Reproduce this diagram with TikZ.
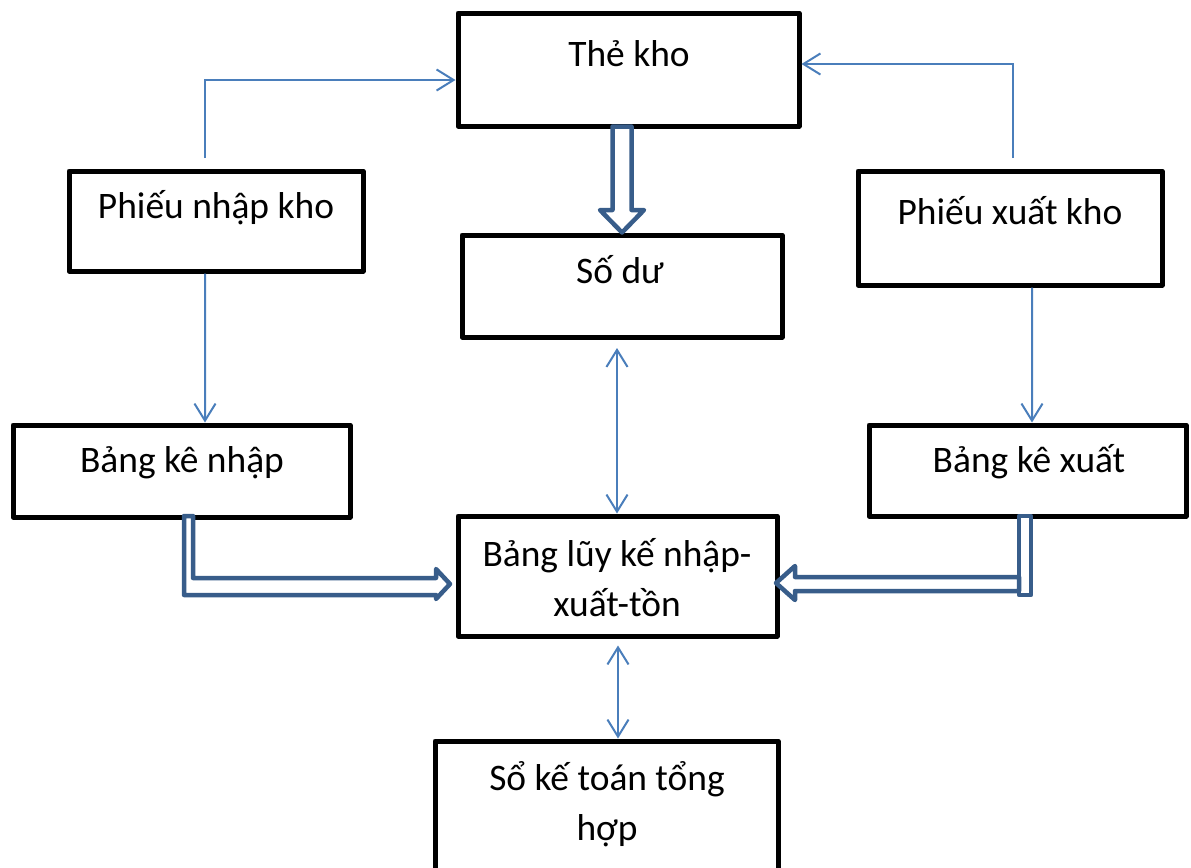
\documentclass[tikz,border=0pt]{standalone}
\usepackage{fontspec}
\setmainfont{Carlito}
\usetikzlibrary{arrows.meta}
\newlength\pxu
\setlength\pxu{0.02cm}
\definecolor{linkblue}{RGB}{74,126,187}
\definecolor{flowblue}{RGB}{56,93,138}

\begin{document}
\begin{tikzpicture}[x=0.02cm,y=-0.02cm,
  box/.style={draw=black, line width=5\pxu, line join=round, fill=white, inner sep=0pt},
  txt/.style={font=\fontsize{21.3}{25}\selectfont, anchor=base, inner sep=0pt},
  link/.style={draw=linkblue, line width=2\pxu,
    -{Straight Barb[length=9.7pt, width=12pt]}},
  twolink/.style={draw=linkblue, line width=2\pxu,
    {Straight Barb[length=9.7pt, width=12pt]}-{Straight Barb[length=9.7pt, width=12pt]}},
  hollow/.style={draw=flowblue, line width=4.5\pxu, fill=white, line join=round}
]
\useasboundingbox (0,0) rectangle (1191,867);
\clip (0,0) rectangle (1191,867);

% document boxes
\node[box, minimum width=341\pxu, minimum height=113\pxu] (thekho) at (628.5,69.5) {};
\node[box, minimum width=294\pxu, minimum height=100\pxu] (pnk) at (216,221) {};
\node[box, minimum width=320\pxu, minimum height=102\pxu] (sodu) at (622,286) {};
\node[box, minimum width=304\pxu, minimum height=114\pxu] (pxk) at (1010,228) {};
\node[box, minimum width=337\pxu, minimum height=92\pxu] (bkn) at (181.5,471) {};
\node[box, minimum width=317\pxu, minimum height=91\pxu] (bkx) at (1027.5,470.5) {};
\node[box, minimum width=319\pxu, minimum height=120\pxu] (lk) at (617.5,576) {};
\node[box, minimum width=343\pxu, minimum height=159\pxu] (sokt) at (606.5,820.5) {};

% box texts
\node[txt] (thekho-t) at (629,66) {Thẻ kho};
\node[txt] (pnk-t) at (216,218) {Phiếu nhập kho};
\node[txt] (sodu-t) at (620,283) {Số dư};
\node[txt] (pxk-t) at (1010,224) {Phiếu xuất kho};
\node[txt] (bkn-t) at (182,472) {Bảng kê nhập};
\node[txt] (bkx-t) at (1029,472) {Bảng kê xuất};
\node[txt] (lk-t1) at (617,566) {Bảng lũy kế nhập-};
\node[txt] (lk-t2) at (617,616) {xuất-tồn};
\node[txt] (sokt-t1) at (607,790) {Sổ kế toán tổng};
\node[txt] (sokt-t2) at (607,840) {hợp};

% thin connectors
\coordinate (pnk-up) at ([xshift=-11\pxu,yshift=10.5\pxu]pnk.north);
\coordinate (pxk-up) at ([xshift=3\pxu,yshift=10.5\pxu]pxk.north);
\coordinate (tk-in-l) at ([yshift=-10.5\pxu]thekho.west);
\coordinate (tk-in-r) at ([yshift=5.5\pxu]thekho.east);
\draw[link] (pnk-up) |- (tk-in-l);
\draw[link] (pxk-up) |- (tk-in-r);
\draw[link] ([xshift=-11\pxu]pnk.south) -- ([xshift=23.5\pxu]bkn.north);
\draw[link] ([xshift=22\pxu]pxk.south) -- ([xshift=4.5\pxu]bkx.north);
\draw[twolink] ([xshift=-5\pxu,yshift=-8.5\pxu]sodu.south) -- ([xshift=-0.5\pxu]lk.north);
\draw[twolink] ([xshift=0.5\pxu,yshift=-7\pxu]lk.south) -- ([xshift=11.5\pxu]sokt.north);

% hollow block arrows
\coordinate (a1) at (thekho.south -| sodu.north);
\draw[hollow] (a1) ++(-9.5,-2) -- ++(0,83.5) -- ++(-12.5,0)
  -- (sodu.north) -- ++(22,-22.5) -- ++(-12.5,0) -- ++(0,-83.5) -- cycle;

\draw[hollow] (bkn.south) ++(2.5,-3.5) -- ++(0,79) -- ++(252,0) -- ++(0,4)
  -- ([xshift=-5.5\pxu,yshift=-8\pxu]lk.west) -- ++(-14,-15) -- ++(0,9)
  -- ++(-243,0) -- ++(0,-62) -- cycle;

\draw[hollow] ([xshift=-8.5\pxu,yshift=2.5\pxu]bkx.south) rectangle ++(12,79);
\coordinate (a3) at (bkx.south |- lk.east);
\draw[hollow] (a3) ++(-8.5,1) -- ++(-224,0)
  -- ++(0,-11) -- ([xshift=-3.5\pxu,yshift=-7\pxu]lk.east) -- ++(19,17) -- ++(0,-9)
  -- ++(224,0) -- cycle;
\end{tikzpicture}
\end{document}
